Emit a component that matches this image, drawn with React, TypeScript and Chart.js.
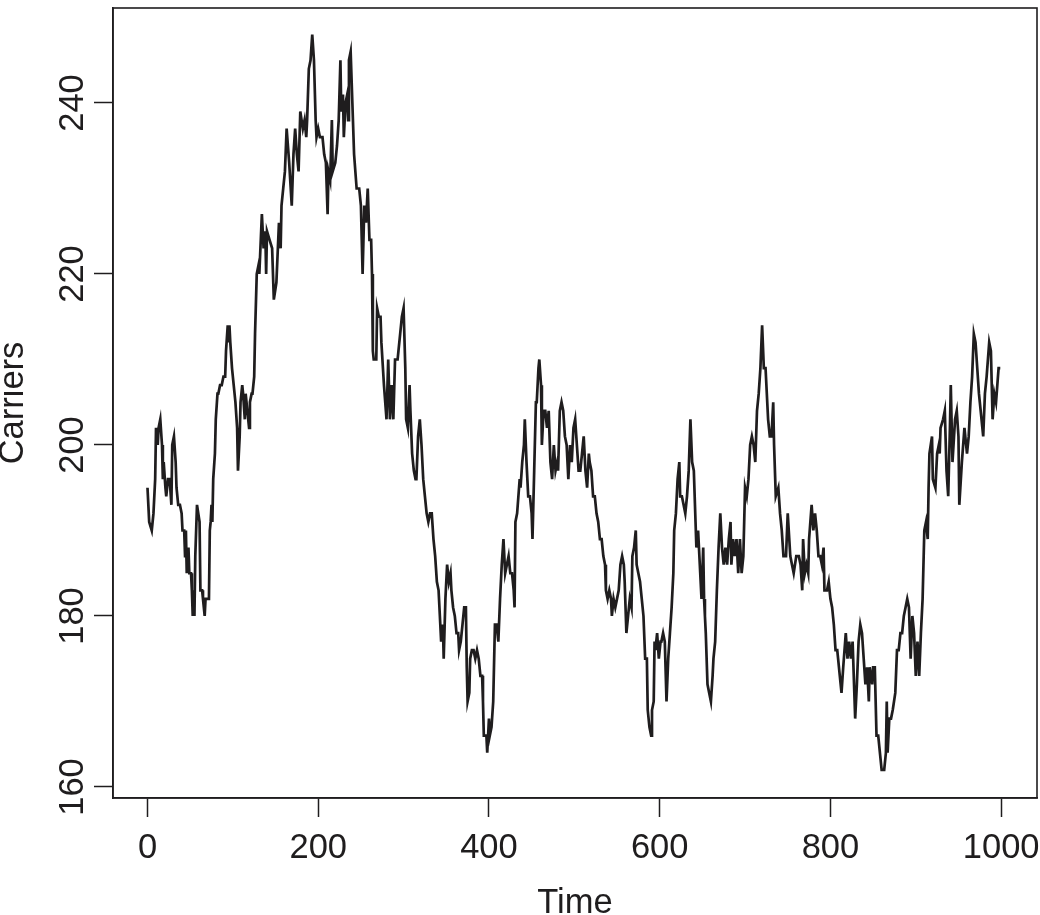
import React, { useEffect, useRef } from "react";
import { Chart, registerables } from "chart.js";

Chart.register(...registerables);

// Time index of each read point
const times = [
  0, 2, 5, 7, 9, 10, 12, 13, 15, 17,
  18, 19, 21, 22, 24, 26, 28, 29, 31, 33,
  34, 36, 38, 40, 41, 43, 44, 45, 46, 48,
  49, 51, 52, 53, 54, 55, 56, 58, 59, 61,
  62, 64, 65, 67, 68, 70, 72, 73, 74, 75,
  76, 77, 79, 80, 82, 83, 85, 87, 89, 91,
  92, 94, 95, 96, 97, 99, 101, 103, 105, 106,
  108, 109, 111, 112, 114, 115, 117, 119, 120, 122,
  123, 125, 126, 128, 130, 131, 134, 136, 138, 139,
  140, 143, 146, 148, 151, 154, 156, 157, 159, 161,
  163, 166, 169, 171, 173, 175, 177, 179, 182, 184,
  186, 187, 189, 191, 193, 195, 197, 198, 200, 202,
  205, 207, 209, 211, 212, 214, 216, 217, 220, 222,
  224, 226, 227, 229, 230, 232, 234, 235, 236, 238,
  240, 242, 245, 248, 250, 252, 254, 256, 258, 260,
  262, 263, 264, 265, 268, 269, 271, 273, 274, 277,
  280, 282, 284, 286, 288, 290, 293, 294, 296, 298,
  300, 302, 303, 305, 307, 308, 310, 312, 314, 315,
  317, 319, 321, 323, 325, 327, 329, 331, 333, 335,
  337, 339, 341, 343, 344, 346, 347, 349, 351, 353,
  355, 356, 358, 360, 362, 364, 365, 367, 369, 371,
  373, 374, 375, 377, 378, 380, 382, 384, 386, 388,
  390, 392, 393, 394, 397, 398, 400, 401, 403, 405,
  407, 409, 411, 413, 415, 417, 419, 421, 423, 425,
  427, 429, 430, 431, 433, 436, 437, 439, 441, 442,
  444, 446, 448, 450, 451, 453, 455, 456, 458, 459,
  461, 462, 464, 466, 468, 470, 472, 474, 476, 478,
  480, 481, 483, 485, 487, 489, 491, 493, 495, 497,
  499, 501, 503, 505, 507, 509, 511, 513, 515, 517,
  518, 520, 522, 524, 526, 528, 530, 532, 534, 536,
  537, 539, 541, 543, 544, 546, 548, 550, 552, 554,
  556, 558, 559, 561, 563, 565, 567, 568, 570, 572,
  573, 575, 577, 579, 581, 583, 585, 586, 588, 590,
  591, 593, 594, 595, 597, 599, 601, 602, 604, 606,
  608, 610, 612, 614, 616, 617, 619, 621, 623, 624,
  626, 628, 630, 632, 634, 636, 638, 640, 642, 643,
  645, 647, 649, 651, 652, 653, 654, 656, 658, 660,
  662, 663, 665, 667, 669, 671, 673, 675, 677, 679,
  681, 683, 684, 686, 688, 690, 692, 694, 696, 698,
  700, 702, 704, 706, 708, 710, 712, 714, 716, 718,
  720, 722, 724, 727, 729, 731, 733, 734, 736, 739,
  741, 743, 745, 748, 750, 753, 755, 757, 760, 763,
  765, 767, 768, 770, 772, 774, 775, 778, 780, 782,
  784, 786, 788, 790, 792, 793, 796, 798, 800, 802,
  804, 806, 808, 809, 811, 813, 815, 818, 820, 822,
  824, 826, 829, 831, 833, 835, 837, 839, 841, 843,
  845, 846, 849, 850, 852, 854, 856, 858, 860, 863,
  865, 866, 867, 869, 871, 873, 876, 878, 880, 882,
  884, 886, 888, 890, 892, 894, 896, 898, 900, 902,
  904, 906, 908, 910, 912, 914, 915, 916, 919, 920,
  923, 925, 927, 928, 929, 932, 934, 936, 938, 940,
  941, 943, 946, 948, 950, 951, 954, 957, 960, 962,
  964, 966, 968, 970, 972, 974, 975, 979, 981, 983,
  986, 988, 990, 992, 994, 997, 999,
];

// Number of carriers read at each time above
const carriers = [
  195, 191, 190, 192, 196, 202, 200, 202, 203, 200,
  196, 198, 195, 194, 196, 196, 193, 200, 201, 198,
  195, 193, 193, 192, 190, 190, 187, 190, 185, 188,
  185, 185, 183, 180, 183, 180, 187, 193, 193, 191,
  183, 183, 182, 180, 182, 182, 182, 190, 191, 193,
  191, 196, 199, 203, 206, 206, 207, 207, 208, 208,
  211, 214, 212, 214, 212, 209, 207, 205, 202, 197,
  201, 205, 207, 206, 203, 206, 204, 202, 205, 206,
  206, 208, 213, 220, 221, 220, 227, 223, 225, 220,
  225, 224, 223, 217, 219, 226, 223, 228, 230, 232,
  237, 233, 228, 234, 237, 234, 232, 239, 237, 238,
  236, 238, 244, 245, 248, 245, 238, 236, 237, 236,
  236, 234, 233, 227, 232, 231, 238, 232, 233, 235,
  238, 245, 239, 241, 236, 240, 241, 238, 245, 246,
  240, 234, 230, 230, 228, 220, 228, 226, 230, 224,
  224, 220, 211, 210, 210, 216, 215, 215, 212, 207,
  203, 210, 203, 207, 203, 210, 210, 211, 213, 215,
  216, 209, 203, 202, 207, 204, 199, 197, 196, 196,
  201, 203, 200, 196, 194, 192, 191, 192, 192, 189,
  187, 184, 183, 179, 177, 179, 175, 182, 186, 184,
  185, 183, 181, 180, 178, 178, 176, 177, 179, 181,
  181, 174, 170, 171, 175, 176, 176, 175, 176, 175,
  173, 173, 170, 166, 166, 164, 168, 166, 167, 170,
  179, 179, 177, 182, 186, 189, 185, 186, 187, 185,
  185, 183, 181, 191, 192, 196, 195, 198, 200, 203,
  198, 194, 194, 192, 189, 197, 205, 205, 209, 210,
  207, 200, 204, 204, 202, 204, 198, 196, 200, 197,
  198, 197, 204, 205, 204, 201, 200, 196, 200, 198,
  202, 203, 200, 197, 197, 199, 201, 197, 195, 199,
  198, 197, 194, 194, 192, 191, 189, 189, 187, 186,
  183, 182, 183, 182, 180, 182, 181, 182, 183, 186,
  187, 186, 184, 178, 180, 182, 181, 187, 188, 190,
  186, 185, 184, 182, 180, 175, 175, 169, 167, 166,
  169, 170, 177, 176, 178, 175, 177, 177, 178, 177,
  170, 175, 178, 181, 185, 190, 192, 196, 198, 194,
  194, 193, 192, 194, 197, 203, 198, 197, 191, 188,
  190, 186, 182, 188, 182, 180, 178, 172, 171, 170,
  173, 175, 177, 183, 188, 192, 188, 186, 188, 186,
  189, 191, 186, 189, 187, 189, 185, 189, 185, 187,
  195, 194, 196, 200, 201, 200, 198, 204, 206, 209,
  214, 209, 209, 203, 201, 201, 205, 200, 194, 195,
  192, 190, 187, 187, 192, 187, 186, 185, 187, 187,
  186, 183, 189, 185, 186, 185, 189, 193, 190, 192,
  190, 187, 187, 186, 188, 183, 183, 184, 182, 181,
  179, 176, 176, 175, 173, 171, 174, 178, 175, 177,
  175, 177, 168, 172, 177, 179, 178, 175, 172, 174,
  170, 174, 172, 174, 174, 166, 166, 164, 162, 162,
  164, 170, 164, 168, 168, 169, 171, 176, 176, 178,
  178, 180, 181, 182, 181, 175, 180, 178, 173, 177,
  173, 178, 182, 190, 191, 189, 195, 199, 201, 196,
  195, 199, 200, 199, 202, 203, 204, 197, 194, 202,
  207, 198, 203, 204, 201, 193, 198, 202, 199, 201,
  205, 208, 213, 212, 209, 206, 205, 201, 206, 208,
  212, 211, 203, 206, 205, 209, 209,
];

const xTicks = [0, 200, 400, 600, 800, 1000];
const yTicks = [160, 180, 200, 220, 240];
const xTitle = "Time";
const yTitle = "Carriers";

const INK = "#1f1d1e";
const FONT = "'Liberation Sans', Arial, Helvetica, sans-serif";
const FONT_SIZE = 34.5;

const plotBox = {
  id: "plotBox",
  afterDatasetsDraw(chart: any) {
    const { ctx, chartArea: a } = chart;
    ctx.save();
    ctx.strokeStyle = INK;
    ctx.lineWidth = 1.6;
    ctx.strokeRect(a.left, a.top, a.right - a.left, a.bottom - a.top);
    ctx.restore();
  },
};

const zeroPad = (s: any) => {
  s.paddingLeft = 0;
  s.paddingRight = 0;
  s.paddingTop = 0;
  s.paddingBottom = 0;
};

export default function App() {
  const ref = useRef<HTMLCanvasElement>(null);

  useEffect(() => {
    document.body.style.margin = "0";
    const canvas = ref.current;
    if (!canvas) return;
    const font = { family: FONT, size: FONT_SIZE, lineHeight: 1 };
    const chart = new Chart(canvas, {
      type: "line",
      data: {
        datasets: [
          {
            data: times.map((t, i) => ({ x: t, y: carriers[i] })),
            borderColor: INK,
            borderWidth: 2.7,
            pointRadius: 0,
            tension: 0,
            fill: false,
          },
        ],
      },
      options: {
        responsive: false,
        animation: false,
        events: [],
        layout: { padding: { top: 8, right: 3, left: 0, bottom: 0 } },
        plugins: { legend: { display: false }, tooltip: { enabled: false } },
        scales: {
          x: {
            type: "linear",
            min: -40.4,
            max: 1042,
            afterBuildTicks: (s: any) => {
              s.ticks = xTicks.map((v) => ({ value: v }));
            },
            afterFit: (s: any) => {
              s.height = 117;
              zeroPad(s);
            },
            grid: {
              drawOnChartArea: false,
              drawTicks: true,
              tickLength: 19,
              tickColor: INK,
              tickWidth: 1.5,
            },
            border: { display: true, color: INK, width: 1.6 },
            ticks: {
              color: INK,
              font,
              padding: 14,
              minRotation: 0,
              maxRotation: 0,
              autoSkip: false,
              callback: (v: any) => String(v),
            },
            title: {
              display: true,
              text: xTitle,
              color: INK,
              font,
              padding: { top: 0, bottom: -6 },
            },
          },
          y: {
            type: "linear",
            min: 158.71,
            max: 251.11,
            afterBuildTicks: (s: any) => {
              s.ticks = yTicks.map((v) => ({ value: v }));
            },
            afterFit: (s: any) => {
              s.width = 113;
              zeroPad(s);
            },
            grid: {
              drawOnChartArea: false,
              drawTicks: true,
              tickLength: 19,
              tickColor: INK,
              tickWidth: 1.5,
            },
            border: { display: true, color: INK, width: 1.6 },
            ticks: {
              color: INK,
              font,
              padding: -8,
              minRotation: 90,
              maxRotation: 90,
              crossAlign: "center",
              autoSkip: false,
              callback: (v: any) => String(v),
            },
            title: {
              display: true,
              text: yTitle,
              color: INK,
              font,
              padding: { top: -4, bottom: 0 },
            },
          },
        },
      },
      plugins: [plotBox],
    } as any);
    return () => chart.destroy();
  }, []);

  return (
    <canvas
      ref={ref}
      width={1040}
      height={915}
      style={{ display: "block", width: 1040, height: 915 }}
    />
  );
}
